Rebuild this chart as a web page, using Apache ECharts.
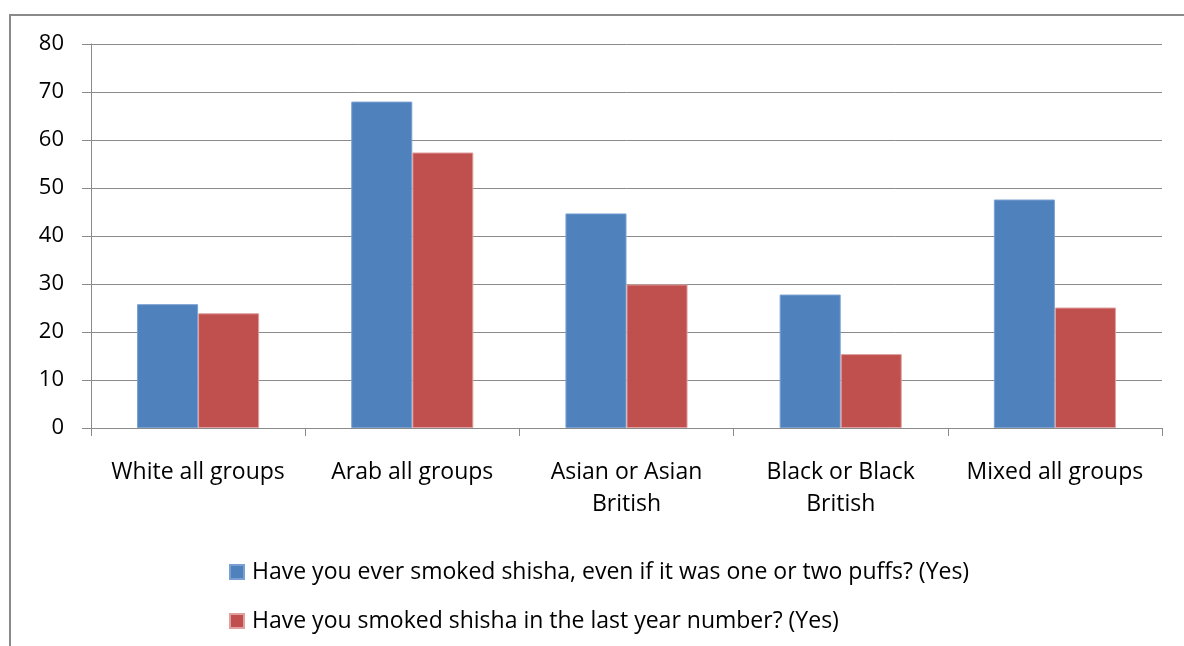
<!DOCTYPE html>
<html>
<head>
<meta charset="utf-8">
<script src="https://cdn.jsdelivr.net/npm/echarts@6/dist/echarts.min.js"></script>
<style>
  html, body { margin: 0; padding: 0; background: #fff; }
  #chart { width: 1184px; height: 646px; }
</style>
</head>
<body>
<div id="chart"></div>
<script>
// Ethnic groups on the category axis
const categories = [
  'White all groups',
  'Arab all groups',
  'Asian or Asian\nBritish',
  'Black or Black\nBritish',
  'Mixed all groups'
];
// Series names shown in the legend
const everName = 'Have you ever smoked shisha, even if it was one or two puffs? (Yes)';
const lastYearName = 'Have you smoked shisha in the last year number? (Yes)';
// Values per group
const everSmoked = [25.8, 68.0, 44.7, 27.8, 47.6];
const lastYear = [23.9, 57.4, 29.9, 15.4, 25.1];
// Value axis range
const yMin = 0, yMax = 80, yStep = 10;

const FONT = '"Open Sans", "Noto Sans", sans-serif';
const chart = echarts.init(document.getElementById('chart'), null, { renderer: 'canvas' });

chart.setOption({
  backgroundColor: '#ffffff',
  animation: false,
  textStyle: { fontFamily: FONT },
  graphic: [{
    type: 'rect',
    silent: true,
    shape: { x: 10, y: 15, width: 1220, height: 700 },
    style: { fill: 'none', stroke: '#8a8a8a', lineWidth: 2 }
  }],
  grid: { left: 91, right: 22, top: 44, bottom: 218, containLabel: false },
  legend: {
    orient: 'vertical',
    left: 229,
    top: 559,
    padding: 0,
    itemWidth: 14,
    itemHeight: 14,
    itemGap: 23,
    icon: 'rect',
    textStyle: { fontFamily: FONT, fontSize: 23, color: '#000', lineHeight: 26, padding: [0, 0, 0, 3] },
    data: [everName, lastYearName]
  },
  xAxis: {
    type: 'category',
    data: categories,
    boundaryGap: true,
    axisLine: { show: true, lineStyle: { color: '#8a8a8a', width: 1 } },
    axisTick: { show: true, length: 8, alignWithLabel: false, lineStyle: { color: '#8a8a8a' } },
    axisLabel: {
      interval: 0,
      margin: 28,
      fontFamily: FONT,
      fontSize: 23,
      lineHeight: 32,
      color: '#000',
      align: 'center'
    },
    splitLine: { show: false }
  },
  yAxis: {
    type: 'value',
    min: yMin,
    max: yMax,
    interval: yStep,
    axisLine: { show: true, lineStyle: { color: '#8a8a8a', width: 1 } },
    axisTick: { show: true, length: 9, lineStyle: { color: '#8a8a8a' } },
    axisLabel: { margin: 27, fontFamily: FONT, fontSize: 22, color: '#000' },
    splitLine: { show: true, lineStyle: { color: '#8a8a8a', width: 1 } }
  },
  series: [
    {
      name: everName,
      type: 'bar',
      data: everSmoked,
      barGap: '0%',
      barCategoryGap: '43%',
      itemStyle: { color: '#4F81BD', borderColor: '#7aa0d2', borderWidth: 1 }
    },
    {
      name: lastYearName,
      type: 'bar',
      data: lastYear,
      barGap: '0%',
      barCategoryGap: '43%',
      itemStyle: { color: '#C0504D', borderColor: '#e0a0a0', borderWidth: 1 }
    }
  ]
});
</script>
</body>
</html>
